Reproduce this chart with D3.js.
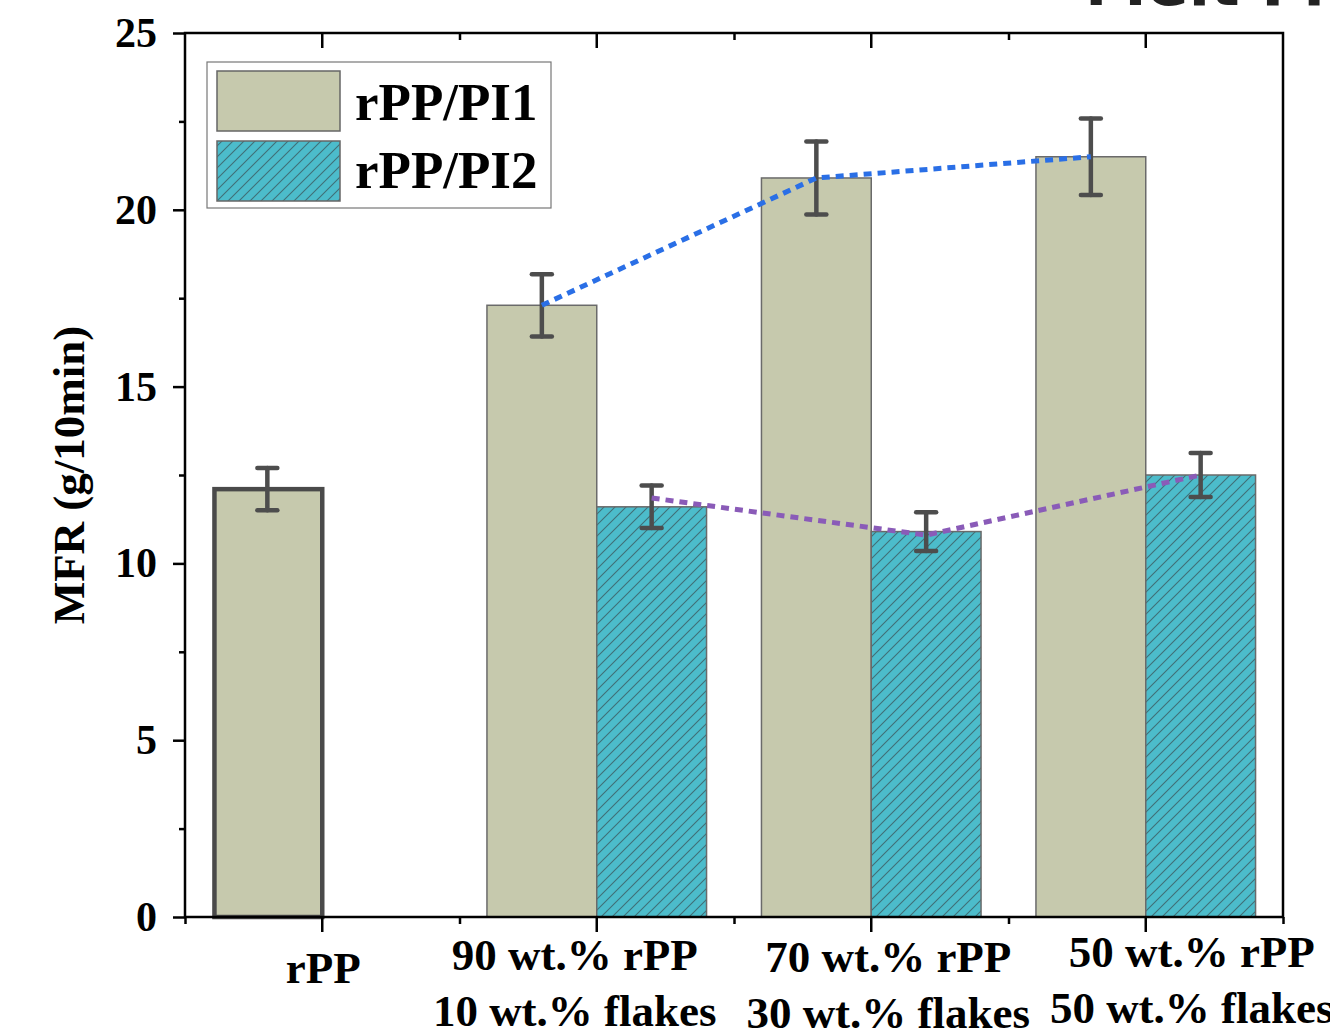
<!DOCTYPE html>
<html>
<head>
<meta charset="utf-8">
<script src="https://cdn.jsdelivr.net/npm/d3@7"></script>
<style>
  html, body { margin: 0; padding: 0; background: #fff; }
  svg { display: block; }
</style>
</head>
<body>
<script>
// ---------- DATA ----------
const categories = ["rPP", "90 wt.% rPP|10 wt.% flakes", "70 wt.% rPP|30 wt.% flakes", "50 wt.% rPP|50 wt.% flakes"];
const seriesNames = ["rPP/PI1", "rPP/PI2"];
const pi1Values = [12.1, 17.3, 20.9, 21.5];
const pi1Errors = [0.6, 0.88, 1.03, 1.08];
const pi2Values = [null, 11.6, 10.9, 12.5];
const pi2Errors = [null, 0.6, 0.55, 0.62];
const trendPI1 = [null, 17.3, 20.9, 21.5];
const trendPI2 = [null, 11.85, 10.8, 12.5];
const yTicks = [0, 5, 10, 15, 20, 25];
const yMinorTicks = [2.5, 7.5, 12.5, 17.5, 22.5];
const yLabel = "MFR (g/10min)";
const titleText = "Melt Flow Index";

// ---------- LAYOUT ----------
const W = 1330, H = 1034;
const pL = 185, pR = 1283, pT = 33, pB = 917;
const serif = "'Liberation Serif', 'Times New Roman', serif";
const c1 = "#c6c9ad", c2 = "#4cbccb";

const svg = d3.select("body").append("svg").attr("width", W).attr("height", H);

const defs = svg.append("defs");
const pat = defs.append("pattern").attr("id", "hatch")
  .attr("patternUnits", "userSpaceOnUse").attr("width", 11).attr("height", 11);
pat.append("rect").attr("width", 11).attr("height", 11).attr("fill", c2);
pat.append("path").attr("d", "M-2,2 L2,-2 M0,11 L11,0 M9,13 L13,9")
  .attr("stroke", "#3f6f77").attr("stroke-width", 1.1);

const x = d3.scaleBand().domain(categories).range([pL, pR]).padding(0);
const bw = x.bandwidth();
const barW = bw * 0.4;
const cx = c => x(c) + bw / 2;
const y = d3.scaleLinear().domain([0, 25]).range([pB, pT]);

// Title (cut off at top, as in the source figure)
svg.append("text").attr("x", 1085).attr("y", 5)
  .attr("font-family", "'DejaVu Sans', sans-serif").attr("font-weight", "bold")
  .attr("font-size", 62).attr("fill", "#222").text(titleText);

// Bars PI1
categories.forEach((c, i) => {
  const v = pi1Values[i];
  if (v == null) return;
  const isFirst = i === 0;
  svg.append("rect")
    .attr("x", cx(c) - barW + (isFirst ? 2 : 0)).attr("y", y(v))
    .attr("width", barW - (isFirst ? 2 : 0)).attr("height", y(0) - y(v))
    .attr("fill", c1)
    .attr("stroke", isFirst ? "#4a4a4a" : "#6a6a6a")
    .attr("stroke-width", isFirst ? 4.5 : 1.5);
});
// Bars PI2
categories.forEach((c, i) => {
  const v = pi2Values[i];
  if (v == null) return;
  svg.append("rect")
    .attr("x", cx(c)).attr("y", y(v))
    .attr("width", barW).attr("height", y(0) - y(v))
    .attr("fill", "url(#hatch)")
    .attr("stroke", "#6a6a6a").attr("stroke-width", 1.5);
});

// Error bars
function errBar(xc, v, e) {
  const g = svg.append("g").attr("stroke", "#4d4d4d").attr("stroke-width", 4.5).attr("stroke-linecap", "round");
  g.append("line").attr("x1", xc).attr("x2", xc).attr("y1", y(v + e)).attr("y2", y(v - e));
  g.append("line").attr("x1", xc - 10).attr("x2", xc + 10).attr("y1", y(v + e)).attr("y2", y(v + e));
  g.append("line").attr("x1", xc - 10).attr("x2", xc + 10).attr("y1", y(v - e)).attr("y2", y(v - e));
}
categories.forEach((c, i) => {
  if (pi1Values[i] != null) errBar(cx(c) - barW / 2, pi1Values[i], pi1Errors[i]);
  if (pi2Values[i] != null) errBar(cx(c) + barW / 2, pi2Values[i], pi2Errors[i]);
});

// Trend lines
const lineGen = d3.line().x(d => d.x).y(d => y(d.v));
const t1 = categories.map((c, i) => ({ x: cx(c) - barW / 2, v: trendPI1[i] })).filter(d => d.v != null);
const t2 = categories.map((c, i) => ({ x: cx(c) + barW / 2, v: trendPI2[i] })).filter(d => d.v != null);
svg.append("path").attr("d", lineGen(t1)).attr("fill", "none")
  .attr("stroke", "#2a6fe6").attr("stroke-width", 5).attr("stroke-dasharray", "8,6");
svg.append("path").attr("d", lineGen(t2)).attr("fill", "none")
  .attr("stroke", "#8a5bb8").attr("stroke-width", 5).attr("stroke-dasharray", "8,6");

// Frame
svg.append("rect").attr("x", pL).attr("y", pT).attr("width", pR - pL).attr("height", pB - pT)
  .attr("fill", "none").attr("stroke", "#000").attr("stroke-width", 2.5);

// Left axis
const yAxis = svg.append("g").attr("transform", `translate(${pL},0)`)
  .call(d3.axisLeft(y).tickValues(yTicks).tickSize(12).tickPadding(16).tickFormat(d3.format("d")));
yAxis.select(".domain").remove();
yAxis.selectAll("line").attr("stroke", "#000").attr("stroke-width", 2.5);
yAxis.selectAll("text").attr("font-family", serif).attr("font-weight", "bold").attr("font-size", 42).attr("fill", "#000");
const yMinor = svg.append("g").attr("transform", `translate(${pL},0)`)
  .call(d3.axisLeft(y).tickValues(yMinorTicks).tickSize(6).tickFormat(""));
yMinor.select(".domain").remove();
yMinor.selectAll("line").attr("stroke", "#000").attr("stroke-width", 2.5);

// Bottom axis major
const xAxis = svg.append("g").attr("transform", `translate(0,${pB})`)
  .call(d3.axisBottom(x).tickSize(15).tickFormat(""));
xAxis.select(".domain").remove();
xAxis.selectAll("line").attr("stroke", "#000").attr("stroke-width", 2.5);
// minor at band edges
const edgeScale = d3.scaleLinear().domain([0, categories.length]).range([pL, pR]);
const edges = d3.range(categories.length + 1);
const xMinor = svg.append("g").attr("transform", `translate(0,${pB})`)
  .call(d3.axisBottom(edgeScale).tickValues(edges).tickSize(7).tickFormat(""));
xMinor.select(".domain").remove();
xMinor.selectAll("line").attr("stroke", "#000").attr("stroke-width", 2.5);

// Top axis (inward ticks)
const xTop = svg.append("g").attr("transform", `translate(0,${pT})`)
  .call(d3.axisTop(x).tickSize(-15).tickFormat(""));
xTop.select(".domain").remove();
xTop.selectAll("line").attr("stroke", "#000").attr("stroke-width", 2.5);
const xTopMinor = svg.append("g").attr("transform", `translate(0,${pT})`)
  .call(d3.axisTop(edgeScale).tickValues(edges.slice(1, -1)).tickSize(-7).tickFormat(""));
xTopMinor.select(".domain").remove();
xTopMinor.selectAll("line").attr("stroke", "#000").attr("stroke-width", 2.5);

// Category labels (with per-label nudges as in the original figure)
const nudgeX = [1, -22, 17, 46];
const nudgeY = [13, 0, 2, -3];
categories.forEach((c, i) => {
  const lines = c.split("|");
  const t = svg.append("text").attr("text-anchor", "middle")
    .attr("font-family", serif).attr("font-weight", "bold").attr("font-size", 45).attr("fill", "#000");
  lines.forEach((ln, j) => {
    t.append("tspan").attr("x", cx(c) + nudgeX[i]).attr("y", 970 + nudgeY[i] + j * 56).text(ln);
  });
});

// Y label
svg.append("text").attr("transform", `translate(84,475) rotate(-90)`).attr("text-anchor", "middle")
  .attr("font-family", serif).attr("font-weight", "bold").attr("font-size", 45).attr("fill", "#000")
  .text(yLabel);

// Legend
const lg = svg.append("g");
lg.append("rect").attr("x", 207).attr("y", 62).attr("width", 344).attr("height", 146)
  .attr("fill", "#fff").attr("stroke", "#777").attr("stroke-width", 1.2);
const fills = [c1, "url(#hatch)"];
seriesNames.forEach((s, i) => {
  lg.append("rect").attr("x", 217).attr("y", 71 + i * 70).attr("width", 123).attr("height", 60)
    .attr("fill", fills[i]).attr("stroke", "#666").attr("stroke-width", 1.5);
  lg.append("text").attr("x", 355).attr("y", 120 + i * 68)
    .attr("font-family", serif).attr("font-weight", "bold").attr("font-size", 53).attr("fill", "#000")
    .text(s);
});
</script>
</body>
</html>
